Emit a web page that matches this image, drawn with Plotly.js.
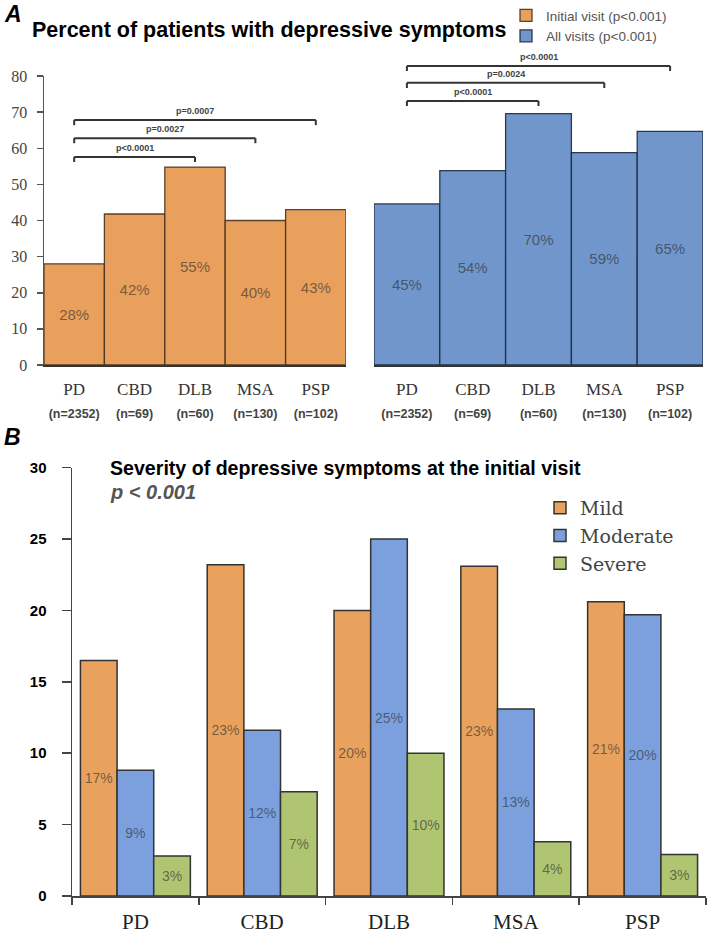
<!DOCTYPE html>
<html>
<head>
<meta charset="utf-8">
<script src="https://cdn.plot.ly/plotly-3.0.1.min.js"></script>
<style>html,body{margin:0;padding:0;background:#fff;}#chart{width:709px;height:934px;}</style>
</head>
<body>
<div id="chart"></div>
<script>
// ---------- data ----------
const categories = ['PD', 'CBD', 'DLB', 'MSA', 'PSP'];
const nLabels = ['(n=2352)', '(n=69)', '(n=60)', '(n=130)', '(n=102)'];

const initialVisit = [28.0, 41.8, 54.8, 40.0, 43.0];
const initialVisitText = ['28%', '42%', '55%', '40%', '43%'];
const allVisits = [44.6, 53.8, 69.6, 58.8, 64.7];
const allVisitsText = ['45%', '54%', '70%', '59%', '65%'];

const mild = [16.5, 23.2, 20.0, 23.1, 20.6];
const mildText = ['17%', '23%', '20%', '23%', '21%'];
const moderate = [8.8, 11.6, 25.0, 13.1, 19.7];
const moderateText = ['9%', '12%', '25%', '13%', '20%'];
const severe = [2.8, 7.3, 10.0, 3.8, 2.9];
const severeText = ['3%', '7%', '10%', '4%', '3%'];

// pairwise comparisons vs PD (target category index, label)
const initialComparisons = [[2, 'p<0.0001'], [3, 'p=0.0027'], [4, 'p=0.0007']];
const allComparisons = [[2, 'p<0.0001'], [3, 'p=0.0024'], [4, 'p<0.0001']];

// ---------- layout helpers ----------
const W = 709, H = 934;
const px = x => x / W;
const py = y => 1 - y / H;
const aZero = 365, aPerUnit = (365 - 76) / 80;
const bZero = 896, bPerUnit = (896 - 467.6) / 30;

const bracketLevelsA = [57.6, 62.8, 67.8];
const bracketLevelsB = [73.1, 78.1, 82.8];
const drop = 1.4;

const sans = 'Liberation Sans, Arial, sans-serif';
const serif = 'Liberation Serif, Times New Roman, serif';

const tickTextA = categories.map((c, i) =>
  c + '<br><span style="font-size:12.5px;font-family:\'Liberation Sans Narrow\',\'Liberation Sans\',Arial;font-weight:bold;fill:#444">' + nLabels[i] + '</span>');

const insideFont = {family: sans, size: 15, color: 'rgba(45,45,45,0.62)'};
const insideFontB = {family: sans, size: 14, color: 'rgba(45,45,45,0.62)'};

const traces = [
  {type: 'bar', x: categories, y: initialVisit, xaxis: 'x', yaxis: 'y', width: 1,
   name: 'Initial visit (p<0.001)', legend: 'legend',
   marker: {color: '#E8A05C', line: {color: 'rgba(70,50,30,0.9)', width: 1.3}},
   text: initialVisitText, textposition: 'inside', insidetextanchor: 'middle',
   textangle: 0, constraintext: 'none', textfont: insideFont, hoverinfo: 'skip'},
  {type: 'bar', x: categories, y: allVisits, xaxis: 'x2', yaxis: 'y2', width: 1,
   name: 'All visits (p<0.001)', legend: 'legend',
   marker: {color: '#7096CB', line: {color: 'rgba(30,40,60,0.9)', width: 1.3}},
   text: allVisitsText, textposition: 'inside', insidetextanchor: 'middle',
   textangle: 0, constraintext: 'none', textfont: insideFont, hoverinfo: 'skip'},
  {type: 'bar', x: categories, y: mild, xaxis: 'x3', yaxis: 'y3', name: 'Mild', legend: 'legend2',
   marker: {color: '#E9A25D', line: {color: '#333', width: 1.5}},
   text: mildText, textposition: 'inside', insidetextanchor: 'middle',
   textangle: 0, constraintext: 'none', textfont: insideFontB, hoverinfo: 'skip'},
  {type: 'bar', x: categories, y: moderate, xaxis: 'x3', yaxis: 'y3', name: 'Moderate', legend: 'legend2',
   marker: {color: '#7CA0DD', line: {color: '#333', width: 1.5}},
   text: moderateText, textposition: 'inside', insidetextanchor: 'middle',
   textangle: 0, constraintext: 'none', textfont: insideFontB, hoverinfo: 'skip'},
  {type: 'bar', x: categories, y: severe, xaxis: 'x3', yaxis: 'y3', name: 'Severe', legend: 'legend2',
   marker: {color: '#B0C571', line: {color: '#333', width: 1.5}},
   text: severeText, textposition: 'inside', insidetextanchor: 'middle',
   textangle: 0, constraintext: 'none', textfont: insideFontB, hoverinfo: 'skip'}
];

const shapes = [];
const annotations = [];
function addBrackets(comps, levels, xref, yref) {
  comps.forEach((c, i) => {
    const to = c[0], y = levels[i];
    const line = {color: '#333', width: 2};
    shapes.push({type: 'line', xref, yref, x0: 0, x1: to, y0: y, y1: y, line});
    shapes.push({type: 'line', xref, yref, x0: 0, x1: 0, y0: y - drop, y1: y, line});
    shapes.push({type: 'line', xref, yref, x0: to, x1: to, y0: y - drop, y1: y, line});
    annotations.push({xref, yref, x: to / 2, y, yshift: 9, text: '<b>' + c[1] + '</b>', showarrow: false,
      xanchor: 'center', yanchor: 'middle', font: {family: sans, size: 9, color: '#444'}});
  });
}
addBrackets(initialComparisons, bracketLevelsA, 'x', 'y');
addBrackets(allComparisons, bracketLevelsB, 'x2', 'y2');

annotations.push({xref: 'paper', yref: 'paper', x: px(2), y: py(14), xanchor: 'left', yanchor: 'middle',
  text: '<b><i>A</i></b>', showarrow: false, font: {family: sans, size: 23, color: '#000'}});
annotations.push({xref: 'paper', yref: 'paper', x: px(2), y: py(437), xanchor: 'left', yanchor: 'middle',
  text: '<b><i>B</i></b>', showarrow: false, font: {family: sans, size: 23, color: '#000'}});
annotations.push({xref: 'paper', yref: 'paper', x: px(108), y: py(468), xanchor: 'left', yanchor: 'middle',
  text: '<b>Severity of depressive symptoms at the initial visit</b>', showarrow: false,
  font: {family: sans, size: 19.6, color: '#000'}});
annotations.push({xref: 'paper', yref: 'paper', x: px(108), y: py(492), xanchor: 'left', yanchor: 'middle',
  text: '<b><i>p &lt; 0.001</i></b>', showarrow: false, font: {family: sans, size: 20, color: '#555'}});

const layout = {
  width: W, height: H, autosize: false,
  margin: {l: 0, r: 0, t: 0, b: 0, pad: 0},
  paper_bgcolor: '#fff', plot_bgcolor: 'rgba(0,0,0,0)',
  barmode: 'group', bargap: 0.133, bargroupgap: 0,
  showlegend: true,
  title: {text: 'Percent of patients with depressive symptoms', x: px(32), xanchor: 'left',
    y: py(29), yanchor: 'middle', xref: 'container', yref: 'container',
    font: {family: sans, size: 21.5, color: '#000', weight: 'bold'}},
  xaxis: {domain: [px(44), px(346)], anchor: 'y', type: 'category', showline: true, linecolor: '#333', linewidth: 2,
    ticks: '', tickmode: 'array', tickvals: categories, ticktext: tickTextA, ticklabelstandoff: 8,
    tickfont: {family: serif, size: 17, color: '#333'}, showgrid: false, zeroline: false, fixedrange: true},
  yaxis: {domain: [py(aZero), py(aZero - 80 * aPerUnit)], anchor: 'x', range: [0, 80], dtick: 10,
    showline: true, linecolor: '#555', linewidth: 1.5, ticks: 'outside', ticklen: 6, tickcolor: '#555', tickwidth: 1.5,
    tickfont: {family: serif, size: 16, color: '#444'}, ticklabelstandoff: 6, showgrid: false, zeroline: false},
  xaxis2: {domain: [px(374), px(703)], anchor: 'y2', type: 'category', showline: true, linecolor: '#333', linewidth: 2,
    ticks: '', tickmode: 'array', tickvals: categories, ticktext: tickTextA, ticklabelstandoff: 8,
    tickfont: {family: serif, size: 17, color: '#333'}, showgrid: false, zeroline: false},
  yaxis2: {domain: [py(aZero), py(aZero - 86 * aPerUnit)], anchor: 'x2', range: [0, 86], visible: false},
  xaxis3: {domain: [px(72), px(706)], anchor: 'y3', type: 'category', showline: true, linecolor: '#444', linewidth: 1.5,
    ticks: 'outside', tickson: 'boundaries', ticklen: 7, tickcolor: '#444', tickwidth: 1.5, ticklabelstandoff: 6,
    tickfont: {family: serif, size: 21, color: '#222'}, showgrid: false, zeroline: false},
  yaxis3: {domain: [py(bZero), py(bZero - 30 * bPerUnit)], anchor: 'x3', range: [0, 30], dtick: 5,
    showline: true, linecolor: '#444', linewidth: 1.5, ticks: 'outside', ticklen: 9, tickcolor: '#444', tickwidth: 1.5,
    tickfont: {family: sans, size: 15, color: '#000', weight: 'bold'}, ticklabelstandoff: 12,
    showgrid: false, zeroline: false},
  legend: {x: px(506), xanchor: 'left', y: py(0), yanchor: 'top', bgcolor: 'rgba(0,0,0,0)',
    font: {family: sans, size: 13.5, color: '#555'}, tracegroupgap: 0},
  legend2: {x: px(540), xanchor: 'left', y: py(489), yanchor: 'top', bgcolor: 'rgba(0,0,0,0)',
    font: {family: 'DejaVu Serif, serif', size: 19, color: '#444'}, tracegroupgap: 0},
  shapes: shapes,
  annotations: annotations
};

Plotly.newPlot('chart', traces, layout, {staticPlot: true, displayModeBar: false});
</script>
</body>
</html>
